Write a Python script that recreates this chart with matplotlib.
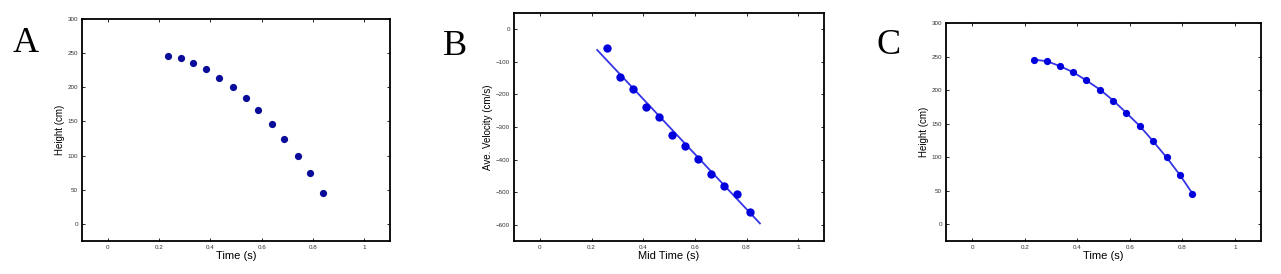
import matplotlib
matplotlib.use("Agg")
import matplotlib.pyplot as plt

# Data: fall of an object
time_s = [0.235, 0.285, 0.334, 0.385, 0.435, 0.487, 0.538, 0.587, 0.639, 0.688, 0.740, 0.790, 0.839]
height_cm = [245.4, 243.0, 235.7, 226.5, 214.3, 200.6, 184.1, 166.1, 146.1, 124.2, 99.8, 74.0, 45.8]

mid_time_s = [0.259, 0.310, 0.360, 0.410, 0.462, 0.512, 0.563, 0.613, 0.663, 0.714, 0.764, 0.815]
ave_velocity = [-58.4, -145.4, -184.3, -237.5, -269.3, -323.5, -358.4, -397.3, -444.4, -480.2, -505.8, -560.1]

fit_time = [0.222, 0.852]
fit_velocity = [-63.5, -596.0]

xticks = [0, 0.2, 0.4, 0.6, 0.8, 1]
xticklabels = ["0", "0.2", "0.4", "0.6", "0.8", "1"]
height_ticks = [0, 50, 100, 150, 200, 250, 300]
vel_ticks = [-600, -500, -400, -300, -200, -100, 0]

plt.rcParams['font.family'] = ['Liberation Sans', 'DejaVu Sans']

W, H = 1281, 274
fig = plt.figure(figsize=(W / 100, H / 100), dpi=100)

def add_axes(l, r, t, b):
    return fig.add_axes([l / W, 1 - b / H, (r - l) / W, (b - t) / H])

def style(ax):
    for s in ax.spines.values():
        s.set_linewidth(1.3)
    ax.tick_params(direction='in', top=True, right=True, length=2.5, width=0.6,
                   labelsize=4.5, labelcolor='#333333', pad=3)
    ax.set_xlim(-0.1, 1.1)
    ax.set_xticks(xticks)
    ax.set_xticklabels(xticklabels)

navy = '#0b0b99'
blue = '#0000dd'
lineblue = '#3535e6'

# Panel A
axA = add_axes(82, 390, 19, 241)
axA.plot(time_s, height_cm, 'o', color=navy, markersize=5.2, markeredgewidth=0)
style(axA)
axA.set_ylim(-25, 300)
axA.set_yticks(height_ticks)
axA.set_xlabel('Time (s)', fontsize=8, labelpad=0.5)
axA.set_ylabel('Height (cm)', fontsize=7, labelpad=2)

# Panel B
axB = add_axes(514, 824, 13, 241)
axB.plot(fit_time, fit_velocity, '-', color=lineblue, linewidth=1.3)
axB.plot(mid_time_s, ave_velocity, 'o', color=blue, markersize=6, markeredgewidth=0)
style(axB)
axB.set_ylim(-650, 50)
axB.set_yticks(vel_ticks)
axB.set_xlabel('Mid Time (s)', fontsize=8, labelpad=0.5)
axB.set_ylabel('Ave. Velocity (cm/s)', fontsize=7, labelpad=2)

# Panel C
axC = add_axes(946, 1261, 23, 241)
axC.plot(time_s, height_cm, '-', color=lineblue, linewidth=1.3)
axC.plot(time_s, height_cm, 'o', color=blue, markersize=5.2, markeredgewidth=0)
style(axC)
axC.set_ylim(-25, 300)
axC.set_yticks(height_ticks)
axC.set_xlabel('Time (s)', fontsize=8, labelpad=0.5)
axC.set_ylabel('Height (cm)', fontsize=7, labelpad=2)

# Panel letters
for x, y, s in [(13, 52, 'A'), (443, 55, 'B'), (877, 54, 'C')]:
    fig.text(x / W, 1 - y / H, s, fontsize=26, family=['Liberation Serif', 'DejaVu Serif'],
             ha='left', va='baseline')

fig.savefig('out.png', dpi=100, facecolor='white')
